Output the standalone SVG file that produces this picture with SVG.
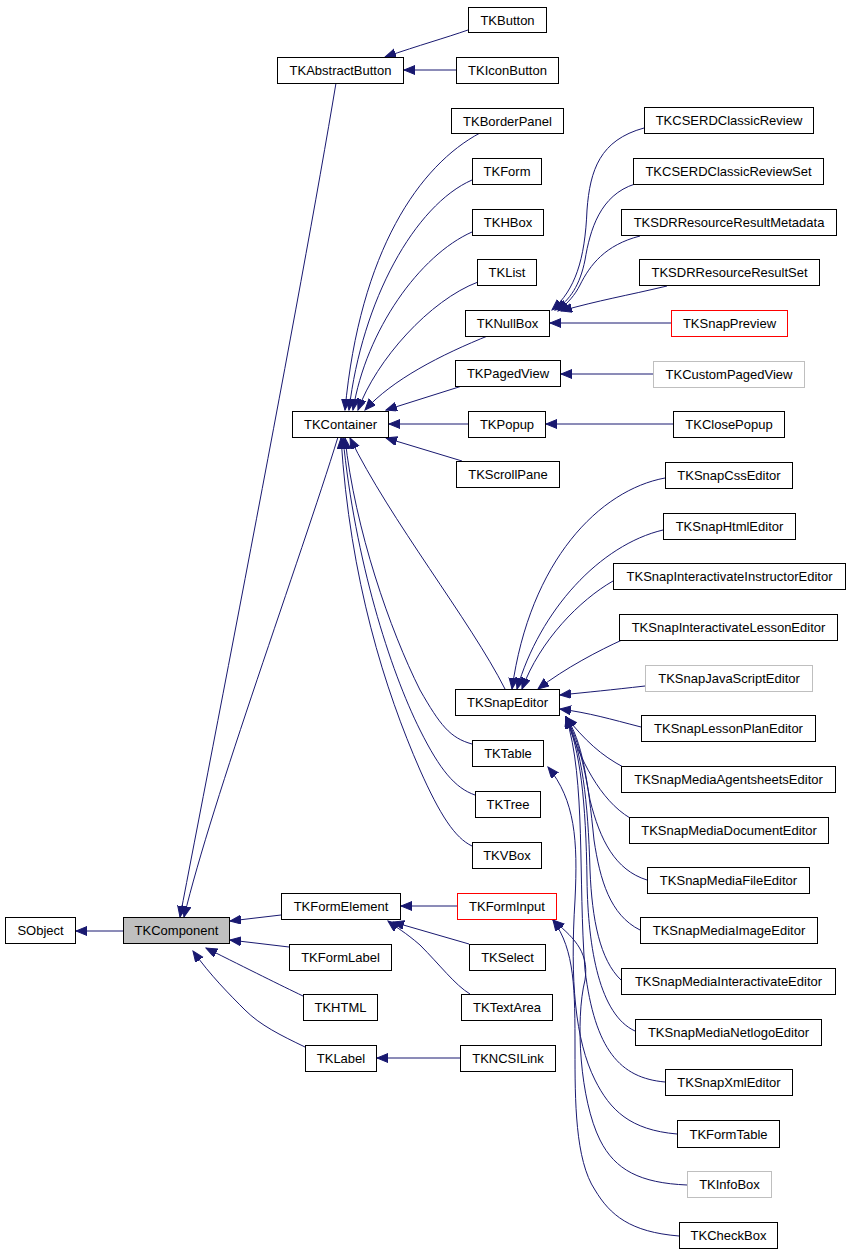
<svg xmlns="http://www.w3.org/2000/svg" width="850" height="1253" viewBox="0 0 850 1253">
<style>
.n rect{fill:#fff;stroke:#000;stroke-width:1}
.n.red rect{stroke:#ff0000}
.n.gray rect{stroke:#bfbfbf}
.n.cur rect{fill:#bfbfbf}
.n text{font-family:"Liberation Sans",Arial,sans-serif;font-size:13px;fill:#000;text-anchor:middle}
#edges path{fill:none;stroke:#191970;stroke-width:1;marker-end:url(#arr)}
</style>
<defs>
<marker id="arr" markerUnits="userSpaceOnUse" markerWidth="12" markerHeight="10" refX="11" refY="4.5" orient="auto">
<path d="M0,0 L11,4.5 L0,9 z" fill="#191970" stroke="#191970" stroke-width="1"/>
</marker>
</defs>
<rect width="850" height="1253" fill="#fff"/>
<g id="edges">
<path d="M123,931 L76,931"/>
<path d="M336,83 C300,300 212,750 180,917"/>
<path d="M468,30 C445,38 420,45 385,57"/>
<path d="M456,70 L404,70"/>
<path d="M338,437 C300,560 212,800 184,917"/>
<path d="M480,133 C420,165 360,250 345,410"/>
<path d="M472,180 C415,205 362,300 349,410"/>
<path d="M472,232 C420,255 366,330 353,410"/>
<path d="M478,282 C430,300 376,360 358,410"/>
<path d="M490,335 C440,355 392,380 365,410"/>
<path d="M462,386 L386,410"/>
<path d="M468,424 L389,424"/>
<path d="M462,461 L386,438"/>
<path d="M505,689 C470,620 390,520 350,438"/>
<path d="M472,744 C450,738 440,725 420,690 C390,630 355,530 345,438"/>
<path d="M475,795 C455,788 440,770 420,730 C390,670 355,560 343,438"/>
<path d="M472,846 C455,838 440,815 420,770 C385,690 350,580 341,438"/>
<path d="M644,128 C600,140 590,170 587,210 C585,260 575,290 552,310"/>
<path d="M635,184 C600,195 590,230 585,260 C580,285 570,300 555,310"/>
<path d="M640,236 C605,245 590,265 580,285 C575,295 568,303 558,311"/>
<path d="M667,286 C625,296 600,300 561,311"/>
<path d="M671,323 L550,323"/>
<path d="M653,374 L561,374"/>
<path d="M673,424 L546,424"/>
<path d="M665,478 C600,490 530,560 512,689"/>
<path d="M663,530 C600,545 540,610 517,689"/>
<path d="M613,581 C580,600 540,640 522,689"/>
<path d="M622,640 C600,650 565,668 538,689"/>
<path d="M645,686 C610,690 590,692 560,695"/>
<path d="M641,727 C610,719 590,713 560,709"/>
<path d="M625,768 C600,755 585,740 566,717"/>
<path d="M630,818 C600,800 580,760 566,717"/>
<path d="M647,880 C615,870 600,840 590,800 C583,760 578,740 566,717"/>
<path d="M640,930 C610,915 600,880 594,840 C588,780 582,740 566,717"/>
<path d="M621,980 C600,960 592,920 590,870 C588,800 582,750 566,717"/>
<path d="M635,1031 C600,1015 588,950 587,880 C586,800 580,750 566,717"/>
<path d="M665,1082 C620,1078 595,1050 585,970 C578,880 586,780 566,717"/>
<path d="M677,1134 C630,1130 610,1110 595,1080 C575,1040 570,980 575,900 C578,840 575,800 548,767"/>
<path d="M687,1185 C640,1183 615,1170 600,1140 C580,1100 575,1020 585,980 C590,950 570,935 553,920"/>
<path d="M679,1236 C630,1232 610,1215 595,1190 C575,1160 575,1100 575,1050 C575,990 575,950 553,920"/>
<path d="M281,915 L230,921"/>
<path d="M289,947 L230,940"/>
<path d="M303,996 C280,985 250,970 206,948"/>
<path d="M305,1047 C280,1035 260,1025 245,1010 C230,995 210,975 193,951"/>
<path d="M457,906 L401,906"/>
<path d="M469,944 L393,922"/>
<path d="M470,994 C455,985 440,965 420,945 C405,932 397,928 388,921"/>
<path d="M460,1058 L377,1058"/>
</g>
<g id="SObject" class="n"><rect x="5.5" y="917.5" width="70" height="26"/><text x="40.5" y="935">SObject</text></g>
<g id="TKComponent" class="n cur"><rect x="123.5" y="917.5" width="106" height="26"/><text x="176.5" y="935">TKComponent</text></g>
<g id="TKAbstractButton" class="n"><rect x="277.5" y="57.5" width="126" height="26"/><text x="340.5" y="75">TKAbstractButton</text></g>
<g id="TKButton" class="n"><rect x="468.5" y="7.5" width="78" height="25"/><text x="507.5" y="24.5">TKButton</text></g>
<g id="TKIconButton" class="n"><rect x="456.5" y="57.5" width="102" height="26"/><text x="507.5" y="75">TKIconButton</text></g>
<g id="TKBorderPanel" class="n"><rect x="451.5" y="108.5" width="112" height="25"/><text x="507.5" y="125.5">TKBorderPanel</text></g>
<g id="TKForm" class="n"><rect x="472.5" y="158.5" width="69" height="26"/><text x="507" y="176">TKForm</text></g>
<g id="TKHBox" class="n"><rect x="472.5" y="209.5" width="71" height="26"/><text x="508" y="227">TKHBox</text></g>
<g id="TKList" class="n"><rect x="477.5" y="259.5" width="59" height="26"/><text x="507" y="277">TKList</text></g>
<g id="TKNullBox" class="n"><rect x="465.5" y="310.5" width="84" height="26"/><text x="507.5" y="328">TKNullBox</text></g>
<g id="TKPagedView" class="n"><rect x="455.5" y="360.5" width="105" height="26"/><text x="508" y="378">TKPagedView</text></g>
<g id="TKContainer" class="n"><rect x="292.5" y="411.5" width="96" height="26"/><text x="340.5" y="429">TKContainer</text></g>
<g id="TKPopup" class="n"><rect x="468.5" y="411.5" width="77" height="26"/><text x="507" y="429">TKPopup</text></g>
<g id="TKScrollPane" class="n"><rect x="456.5" y="461.5" width="103" height="26"/><text x="508" y="479">TKScrollPane</text></g>
<g id="TKCSERDClassicReview" class="n"><rect x="644.5" y="107.5" width="169" height="26"/><text x="729" y="125">TKCSERDClassicReview</text></g>
<g id="TKCSERDClassicReviewSet" class="n"><rect x="633.5" y="158.5" width="190" height="26"/><text x="728.5" y="176">TKCSERDClassicReviewSet</text></g>
<g id="TKSDRResourceResultMetadata" class="n"><rect x="621.5" y="209.5" width="215" height="26"/><text x="729" y="227">TKSDRResourceResultMetadata</text></g>
<g id="TKSDRResourceResultSet" class="n"><rect x="639.5" y="259.5" width="180" height="26"/><text x="729.5" y="277">TKSDRResourceResultSet</text></g>
<g id="TKSnapPreview" class="n red"><rect x="671.5" y="310.5" width="116" height="26"/><text x="729.5" y="328">TKSnapPreview</text></g>
<g id="TKCustomPagedView" class="n gray"><rect x="653.5" y="361.5" width="151" height="26"/><text x="729" y="379">TKCustomPagedView</text></g>
<g id="TKClosePopup" class="n"><rect x="673.5" y="411.5" width="111" height="26"/><text x="729" y="429">TKClosePopup</text></g>
<g id="TKSnapCssEditor" class="n"><rect x="665.5" y="462.5" width="127" height="26"/><text x="729" y="480">TKSnapCssEditor</text></g>
<g id="TKSnapHtmlEditor" class="n"><rect x="663.5" y="513.5" width="132" height="26"/><text x="729.5" y="531">TKSnapHtmlEditor</text></g>
<g id="TKSnapInteractivateInstructorEditor" class="n"><rect x="613.5" y="563.5" width="232" height="26"/><text x="729.5" y="581">TKSnapInteractivateInstructorEditor</text></g>
<g id="TKSnapInteractivateLessonEditor" class="n"><rect x="619.5" y="614.5" width="218" height="26"/><text x="728.5" y="632">TKSnapInteractivateLessonEditor</text></g>
<g id="TKSnapJavaScriptEditor" class="n gray"><rect x="645.5" y="665.5" width="167" height="26"/><text x="729" y="683">TKSnapJavaScriptEditor</text></g>
<g id="TKSnapLessonPlanEditor" class="n"><rect x="641.5" y="715.5" width="174" height="26"/><text x="728.5" y="733">TKSnapLessonPlanEditor</text></g>
<g id="TKSnapMediaAgentsheetsEditor" class="n"><rect x="621.5" y="766.5" width="214" height="26"/><text x="728.5" y="784">TKSnapMediaAgentsheetsEditor</text></g>
<g id="TKSnapMediaDocumentEditor" class="n"><rect x="629.5" y="817.5" width="199" height="26"/><text x="729" y="835">TKSnapMediaDocumentEditor</text></g>
<g id="TKSnapMediaFileEditor" class="n"><rect x="647.5" y="867.5" width="162" height="26"/><text x="728.5" y="885">TKSnapMediaFileEditor</text></g>
<g id="TKSnapMediaImageEditor" class="n"><rect x="640.5" y="917.5" width="177" height="26"/><text x="729" y="935">TKSnapMediaImageEditor</text></g>
<g id="TKSnapMediaInteractivateEditor" class="n"><rect x="621.5" y="968.5" width="214" height="26"/><text x="728.5" y="986">TKSnapMediaInteractivateEditor</text></g>
<g id="TKSnapMediaNetlogoEditor" class="n"><rect x="635.5" y="1019.5" width="186" height="26"/><text x="728.5" y="1037">TKSnapMediaNetlogoEditor</text></g>
<g id="TKSnapXmlEditor" class="n"><rect x="665.5" y="1069.5" width="127" height="26"/><text x="729" y="1087">TKSnapXmlEditor</text></g>
<g id="TKFormTable" class="n"><rect x="677.5" y="1120.5" width="102" height="27"/><text x="728.5" y="1138.5">TKFormTable</text></g>
<g id="TKInfoBox" class="n gray"><rect x="687.5" y="1171.5" width="84" height="26"/><text x="729.5" y="1189">TKInfoBox</text></g>
<g id="TKCheckBox" class="n"><rect x="679.5" y="1222.5" width="98" height="26"/><text x="728.5" y="1240">TKCheckBox</text></g>
<g id="TKSnapEditor" class="n"><rect x="455.5" y="689.5" width="104" height="26"/><text x="507.5" y="707">TKSnapEditor</text></g>
<g id="TKTable" class="n"><rect x="472.5" y="740.5" width="71" height="26"/><text x="508" y="758">TKTable</text></g>
<g id="TKTree" class="n"><rect x="475.5" y="791.5" width="65" height="26"/><text x="508" y="809">TKTree</text></g>
<g id="TKVBox" class="n"><rect x="472.5" y="842.5" width="69" height="26"/><text x="507" y="860">TKVBox</text></g>
<g id="TKFormElement" class="n"><rect x="281.5" y="893.5" width="119" height="26"/><text x="341" y="911">TKFormElement</text></g>
<g id="TKFormInput" class="n red"><rect x="457.5" y="893.5" width="99" height="26"/><text x="507" y="911">TKFormInput</text></g>
<g id="TKFormLabel" class="n"><rect x="289.5" y="944.5" width="102" height="26"/><text x="340.5" y="962">TKFormLabel</text></g>
<g id="TKSelect" class="n"><rect x="469.5" y="944.5" width="76" height="26"/><text x="507.5" y="962">TKSelect</text></g>
<g id="TKHTML" class="n"><rect x="303.5" y="994.5" width="74" height="26"/><text x="340.5" y="1012">TKHTML</text></g>
<g id="TKTextArea" class="n"><rect x="461.5" y="994.5" width="91" height="26"/><text x="507" y="1012">TKTextArea</text></g>
<g id="TKLabel" class="n"><rect x="305.5" y="1045.5" width="71" height="26"/><text x="341" y="1063">TKLabel</text></g>
<g id="TKNCSILink" class="n"><rect x="460.5" y="1045.5" width="95" height="26"/><text x="508" y="1063">TKNCSILink</text></g>
</svg>
